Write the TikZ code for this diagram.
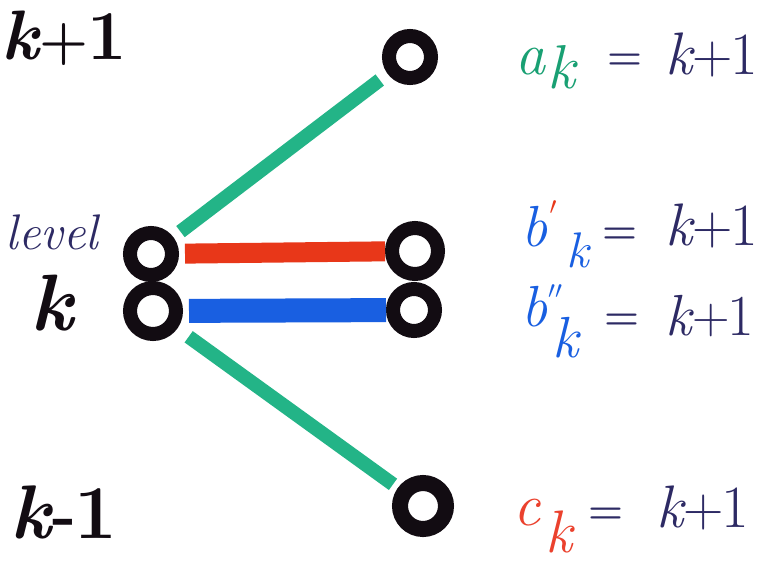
\documentclass[tikz,border=0pt]{standalone}
\definecolor{ink}{RGB}{18,12,18}
\definecolor{navy}{RGB}{45,42,100}
\definecolor{mgreen}{RGB}{35,180,135}
\definecolor{agreen}{RGB}{25,160,115}
\definecolor{mred}{RGB}{232,55,25}
\definecolor{mblue}{RGB}{25,95,225}
\definecolor{cred}{RGB}{235,65,45}
\newcommand{\fs}[1]{\fontsize{#1}{#1}\selectfont}
\newcommand{\kexpr}[4]{\fs{#1}\textit{k}\kern#4\raisebox{0.02em}{\fs{#2}#3}\kern#4 1}
\begin{document}
\begin{tikzpicture}[x=1pt,y=-1pt,
  dot/.style={circle,draw=ink,line width=14pt,inner sep=0pt},
  lbl/.style={inner sep=0pt,anchor=center},
  eqs/.style={lbl,navy,font=\bfseries\fs{40}}]
\useasboundingbox[fill=white] (0,0) rectangle (765,563);
% circles
\node[dot,minimum size=42pt] (t) at (410,57) {};
\node[dot,minimum size=42pt] (lu) at (151,254) {};
\node[dot,minimum size=46pt] (ll) at (153,311) {};
\node[dot,minimum size=46pt] (ru) at (415,251) {};
\node[dot,minimum size=42pt] (rl) at (414,310) {};
\node[dot,minimum size=46pt,line width=16pt] (b) at (423,506) {};
% connectors
\draw[mgreen,line width=14pt,shorten <=9pt,shorten >=10pt] (lu) -- (t);
\draw[mred,line width=20pt,shorten <=6pt] (lu) -- (ru);
\draw[mblue,line width=24pt,shorten <=6pt] (ll) -- (rl);
\draw[mgreen,line width=14pt,shorten <=14pt,shorten >=6pt] (ll) -- (b);
% left labels
\node[lbl,ink,font=\bfseries] (kp1) at (64,38) {\kexpr{70}{56}{+}{-0.02em}};
\node[lbl,navy,font=\itshape\fs{50}] (level) at (52,232) {level};
\node[lbl,ink,font=\bfseries\itshape\fs{80}] (k) at (52,303) {k};
\node[lbl,ink,font=\bfseries] (km1) at (64,512) {\kexpr{76}{64}{-}{-0.02em}};
% right labels
\node[lbl,agreen,font=\itshape\fs{60}] (a) at (530,62) {a};
\node[lbl,agreen,font=\itshape\fs{62}] (ak) at (561,67) {k};
\node[eqs] (eq1) at (625,62) {=};
\node[lbl,navy] (r1) at (712,55) {\kexpr{60}{56}{+}{-0.04em}};
\node[lbl,mblue,font=\itshape\fs{58}] (b1) at (535,227) {b};
\node[lbl,mred,font=\fs{26}] (p1) at (553,208) {$\prime$};
\node[lbl,mblue,font=\itshape\fs{50}] (bk1) at (578,250) {k};
\node[eqs] (eq2) at (620,236) {=};
\node[lbl,navy] (r2) at (712,226) {\kexpr{60}{56}{+}{-0.04em}};
\node[lbl,mblue,font=\itshape\fs{58}] (b2) at (535,307) {b};
\node[lbl,mblue,font=\fs{26}] (p2) at (555,292) {$\prime\prime$};
\node[lbl,mblue,font=\itshape\fs{58}] (bk2) at (566,338) {k};
\node[eqs] (eq3) at (622,322) {=};
\node[lbl,navy] (r3) at (710,316) {\kexpr{58}{52}{+}{-0.04em}};
\node[lbl,cred,font=\itshape\fs{60}] (c) at (527,513) {c};
\node[lbl,cred,font=\itshape\fs{60}] (ck) at (559,532) {k};
\node[eqs] (eq4) at (606,516) {=};
\node[lbl,navy] (r4) at (703,508) {\kexpr{60}{56}{+}{-0.04em}};
\end{tikzpicture}
\end{document}
